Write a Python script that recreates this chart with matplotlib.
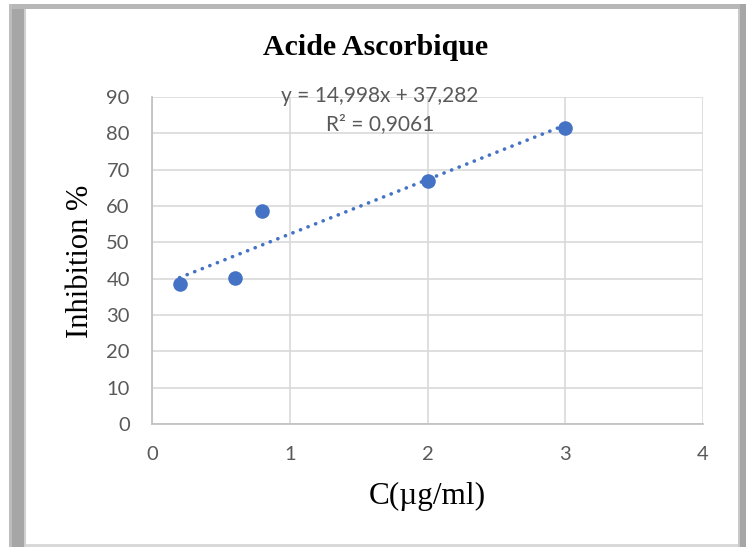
import matplotlib
matplotlib.use("Agg")
import matplotlib.pyplot as plt
from matplotlib.patches import Rectangle
import numpy as np

# Data
concentrations = [0.2, 0.6, 0.8, 2.0, 3.0]
inhibition = [38.5, 40.3, 58.5, 67.0, 81.5]
slope = 14.998
intercept = 37.282
r_squared = 0.9061
x_ticks = [0, 1, 2, 3, 4]
y_ticks = [0, 10, 20, 30, 40, 50, 60, 70, 80, 90]

W, H = 746, 547
fig = plt.figure(figsize=(W / 100, H / 100), dpi=100)
fig.patch.set_facecolor("white")

# Grey frame around the chart (screenshot borders)
def px_rect(x0, y0, x1, y1, color):
    fig.patches.append(Rectangle((x0 / W, 1 - y1 / H), (x1 - x0) / W, (y1 - y0) / H,
                                 transform=fig.transFigure, facecolor=color,
                                 edgecolor="none", zorder=0))

px_rect(9, 4, 746, 9, "#b7b7b7")      # top
px_rect(9, 4, 12, 547, "#bdbdbd")     # left light
px_rect(12, 9, 24, 547, "#a6a6a6")    # left dark
px_rect(24, 9, 26, 547, "#d0d0d0")    # left inner
px_rect(738, 9, 740, 547, "#c8c8c8")  # right light
px_rect(740, 4, 746, 547, "#a6a6a6")  # right dark
px_rect(26, 544, 738, 547, "#d9d9d9") # bottom

ax = fig.add_axes([152 / W, 1 - 424 / H, (703 - 152) / W, (424 - 97) / H])
ax.set_xlim(0, 4)
ax.set_ylim(0, 90)
ax.set_xticks(x_ticks)
ax.set_yticks(y_ticks)
ax.grid(True, color="#d9d9d9", linewidth=1.2)
ax.set_axisbelow(True)
for s in ["top", "right"]:
    ax.spines[s].set_visible(False)
for s in ["left", "bottom"]:
    ax.spines[s].set_color("#bfbfbf")
    ax.spines[s].set_linewidth(1.2)
ax.tick_params(axis="y", length=0, labelsize=14.5, labelcolor="#595959", pad=16)
ax.tick_params(axis="x", length=0, labelsize=14.5, labelcolor="#595959", pad=16)
for lab in ax.get_xticklabels() + ax.get_yticklabels():
    lab.set_fontfamily("Lato")

# trendline
xt = np.array([min(concentrations), max(concentrations)])
ax.plot(xt, slope * xt + intercept, color="#4472C4", linewidth=2.6,
        linestyle=(0, (0.05, 2.2)), dash_capstyle="round", zorder=2)

ax.plot(concentrations, inhibition, "o", color="#4472C4", markersize=10.5,
        markeredgewidth=0, zorder=3)

eq = "y = " + f"{slope:.3f}".replace(".", ",") + "x + " + f"{intercept:.3f}".replace(".", ",")
r2 = "R² = " + f"{r_squared:.4f}".replace(".", ",")
fig.text(380 / W, 1 - 96 / H, eq, ha="center", va="center", fontsize=15,
         color="#595959", family="Lato")
fig.text(380 / W, 1 - 124 / H, r2, ha="center", va="center", fontsize=15,
         color="#595959", family="Lato")

fig.text(376 / W, 1 - 48 / H, "Acide Ascorbique", ha="center", va="center",
         fontsize=21.5, fontweight="bold", family="Liberation Serif", color="black")
fig.text(80 / W, 1 - 261 / H, "Inhibition %", ha="center", va="center",
         rotation=90, fontsize=22, family="Liberation Serif", color="black")
fig.text(427 / W, 1 - 496 / H, "C(µg/ml)", ha="center", va="center",
         fontsize=22.5, family="Liberation Serif", color="black")

fig.savefig("out.png", dpi=100)
